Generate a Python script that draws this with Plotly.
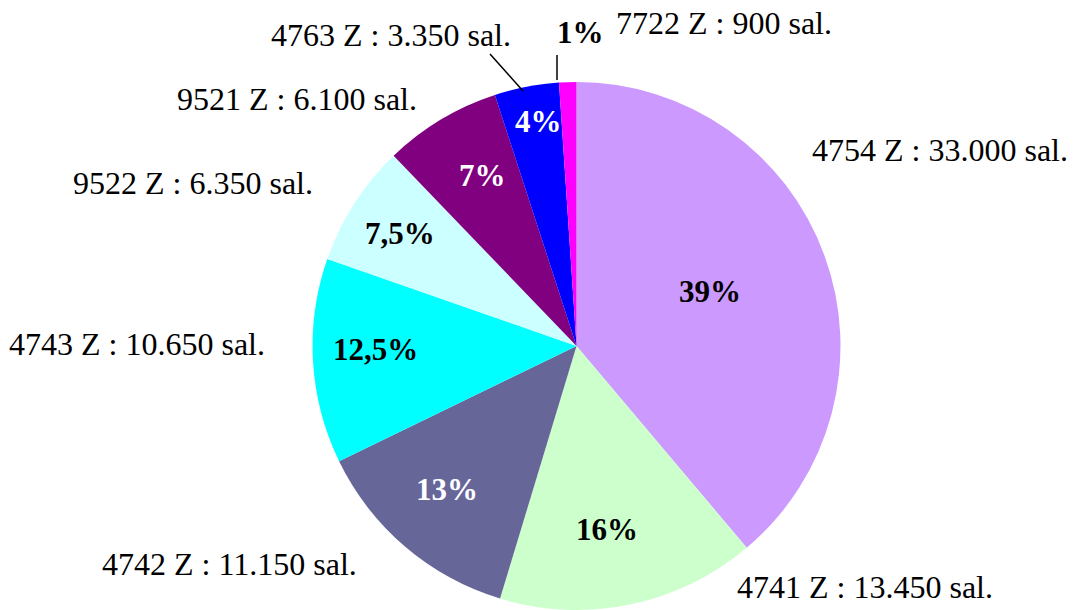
import plotly.graph_objects as go

# ---- data ----
codes = ["4754 Z", "4741 Z", "4742 Z", "4743 Z", "9522 Z", "9521 Z", "4763 Z", "7722 Z"]
salaries = [33000, 13450, 11150, 10650, 6350, 6100, 3350, 900]
salary_labels = ["33.000", "13.450", "11.150", "10.650", "6.350", "6.100", "3.350", "900"]
pct_labels = ["39%", "16%", "13%", "12,5%", "7,5%", "7%", "4%", "1%"]

# ---- styles / layout ----
colors = ["#CC99FF", "#CCFFCC", "#666699", "#00FFFF", "#CCFFFF", "#800080", "#0000FF", "#FF00FF"]
pct_colors = ["black", "black", "white", "black", "black", "white", "white", "black"]
W, H = 1073, 610
FONT = "Liberation Serif, Times New Roman, serif"

# label positions (pixels, text centres)
name_pos = [(940, 150), (865, 587), (229, 564), (137, 344), (193, 183), (297, 99), (391, 35), (724, 23)]
pct_pos = [(710, 291), (607, 529), (447, 489), (375, 349), (400, 233), (482, 175), (538, 122), (580, 32)]
leader_lines = [((490, 54), (523, 91)), ((557, 55), (557, 80))]


def px(x):
    return x / W


def py(y):
    return 1 - y / H


fig = go.Figure(
    go.Pie(
        labels=codes,
        values=salaries,
        sort=False,
        direction="clockwise",
        rotation=0,
        marker=dict(colors=colors, line=dict(width=0)),
        textinfo="none",
        hoverinfo="label+value+percent",
        showlegend=False,
        domain=dict(x=[0.2913, 0.7833], y=[0.0, 0.8656]),
    )
)

annotations = []
for code, sal, (x, y) in zip(codes, salary_labels, name_pos):
    annotations.append(dict(
        x=px(x), y=py(y), xref="paper", yref="paper", showarrow=False,
        text=f"{code} : {sal} sal.", xanchor="center", yanchor="middle",
        font=dict(family=FONT, size=32, color="black"),
    ))
for txt, col, (x, y) in zip(pct_labels, pct_colors, pct_pos):
    annotations.append(dict(
        x=px(x), y=py(y), xref="paper", yref="paper", showarrow=False,
        text=f"<b>{txt}</b>", xanchor="center", yanchor="middle",
        font=dict(family=FONT, size=31, color=col),
    ))

shapes = []
for (x0, y0), (x1, y1) in leader_lines:
    shapes.append(dict(type="line", xref="paper", yref="paper",
                       x0=px(x0), y0=py(y0), x1=px(x1), y1=py(y1),
                       line=dict(color="black", width=1.5)))

fig.update_layout(
    width=W, height=H,
    margin=dict(l=0, r=0, t=0, b=0),
    paper_bgcolor="white", plot_bgcolor="white",
    annotations=annotations,
    shapes=shapes,
)

fig.write_html(
    "out.html",
    config={"displayModeBar": False},
    post_script="document.body.style.margin='0';document.body.style.overflow='hidden';",
)
